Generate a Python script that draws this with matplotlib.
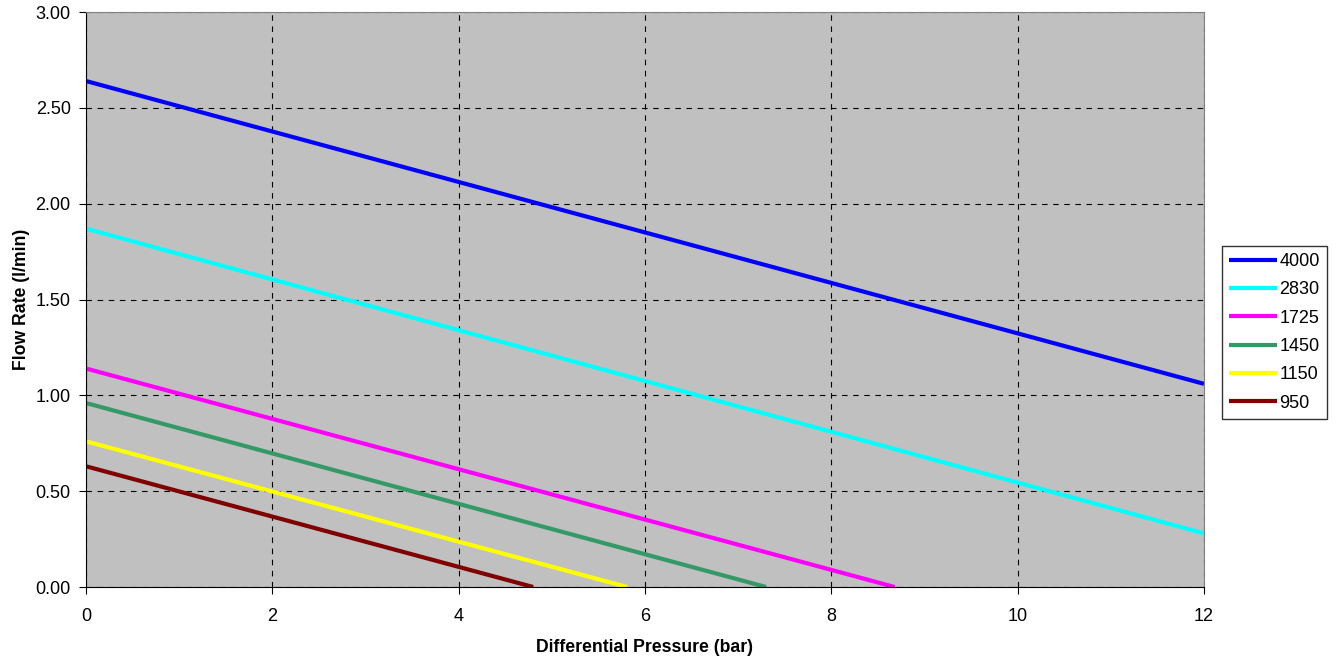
import matplotlib
matplotlib.use("Agg")
import matplotlib.pyplot as plt

plt.rcParams["font.family"] = ["Liberation Sans", "DejaVu Sans"]

# pressure (bar) at start and end of each line
speeds = ["4000", "2830", "1725", "1450", "1150", "950"]
pressure = [
    [0, 12],
    [0, 12],
    [0, 8.68],
    [0, 7.30],
    [0, 5.81],
    [0, 4.80],
]
flow = [
    [2.64, 1.06],
    [1.87, 0.28],
    [1.14, 0.0],
    [0.96, 0.0],
    [0.76, 0.0],
    [0.63, 0.0],
]
colors = ["#0000ff", "#00ffff", "#ff00ff", "#339966", "#ffff00", "#800000"]

fig = plt.figure(figsize=(13.37, 6.6), dpi=100)
ax = fig.add_axes([0.0643, 0.1106, 0.8362, 0.8712])
ax.set_facecolor("#c0c0c0")

for name, x, y, c in zip(speeds, pressure, flow, colors):
    ax.plot(x, y, color=c, lw=3, label=name, solid_capstyle="butt")

ax.set_xlim(0, 12)
ax.set_ylim(0, 3)
ax.set_xticks(range(0, 13, 2))
ax.set_yticks([i * 0.5 for i in range(7)])
ax.set_yticklabels([f"{i * 0.5:.2f}" for i in range(7)])
ax.grid(True, color="black", ls=(0, (5, 5)), lw=0.8)
ax.tick_params(direction="out", length=5, labelsize=13, colors="black")
ax.tick_params(axis="x", pad=10)
ax.tick_params(axis="y", pad=6)

ax.spines["top"].set_color("#808080")
ax.spines["right"].set_color("#808080")
ax.spines["left"].set_color("black")
ax.spines["bottom"].set_color("black")

ax.set_xlabel("Differential Pressure (bar)", fontsize=12.7, fontweight="bold", labelpad=10)
ax.set_ylabel("Flow Rate (l/min)", fontsize=12.7, fontweight="bold", labelpad=4)

leg = fig.legend(loc="upper left", bbox_to_anchor=(1222 / 1337, 1 - 246 / 660),
                 fontsize=13, frameon=True, fancybox=False, handlelength=2.66,
                 handletextpad=0.15, labelspacing=0.63, borderpad=0.38,
                 borderaxespad=0)
leg.get_frame().set_edgecolor("black")
leg.get_frame().set_linewidth(1)

fig.savefig("out.png", dpi=100)
